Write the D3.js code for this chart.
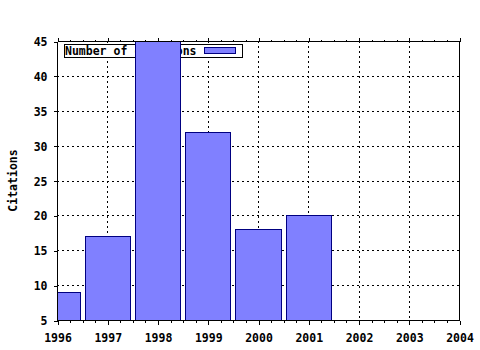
<!DOCTYPE html>
<html>
<head>
<meta charset="utf-8">
<script src="https://cdn.jsdelivr.net/npm/d3@7"></script>
<style>
	body { margin: 0; background: #fff; }
	text { font-family: "DejaVu Sans Mono", monospace; font-weight: bold; font-size: 11.5px; fill: #000; }
</style>
</head>
<body>
<div id="chart"></div>
<script>
'use strict';

// values
const years = [1996, 1997, 1998, 1999, 2000, 2001];
const citations = [9, 17, 45, 32, 18, 20];
const xTicks = [1996, 1997, 1998, 1999, 2000, 2001, 2002, 2003, 2004];
const yTicks = [5, 10, 15, 20, 25, 30, 35, 40, 45];
const seriesName = "Number of citations";
const yTitle = "Citations";

const width = 480, height = 350;
const plot = { left: 57, right: 459, top: 41, bottom: 320 };

const svg = d3.select("#chart")
	.append("svg")
		.attr("width", width)
		.attr("height", height)
		.attr("shape-rendering", "crispEdges");

const x = d3.scaleLinear()
	.domain([xTicks[0], xTicks[xTicks.length - 1]])
	.range([plot.left, plot.right]);

const y = d3.scaleLinear()
	.domain([yTicks[0], yTicks[yTicks.length - 1]])
	.range([plot.bottom, plot.top]);

// grid, dotted
const grid = svg.append("g")
	.attr("stroke", "#000")
	.attr("stroke-dasharray", "2,3");

grid.selectAll("line.h")
	.data(yTicks.slice(1, -1))
	.join("line")
		.attr("class", "h")
		.attr("x1", plot.left)
		.attr("x2", plot.right)
		.attr("y1", d => Math.round(y(d)) + 0.5)
		.attr("y2", d => Math.round(y(d)) + 0.5);

grid.selectAll("line.v")
	.data(xTicks.slice(1, -1))
	.join("line")
		.attr("class", "v")
		.attr("y1", plot.top)
		.attr("y2", plot.bottom)
		.attr("x1", d => Math.round(x(d)) + 0.5)
		.attr("x2", d => Math.round(x(d)) + 0.5);

// legend sits under the bars
const legend = svg.append("g");
legend.append("rect")
	.attr("x", 64.5).attr("y", 44.5)
	.attr("width", 178).attr("height", 13)
	.attr("fill", "#fff")
	.attr("stroke", "#000");
legend.append("text")
	.attr("x", 65)
	.attr("y", 55)
	.text(seriesName);
legend.append("rect")
	.attr("x", 204.5).attr("y", 47.5)
	.attr("width", 31).attr("height", 6)
	.attr("fill", "#8080ff")
	.attr("stroke", "#000080");

// bars, clipped to the plot
svg.append("clipPath")
	.attr("id", "clip")
	.append("rect")
		.attr("x", plot.left)
		.attr("y", plot.top)
		.attr("width", plot.right - plot.left)
		.attr("height", plot.bottom - plot.top);

const barW = 0.9;
svg.append("g")
	.attr("clip-path", "url(#clip)")
	.selectAll("rect")
	.data(years.map((yr, i) => ({ yr, v: citations[i] })))
	.join("rect")
		.attr("x", d => Math.round(x(d.yr - barW / 2)) + 0.5)
		.attr("width", d => Math.round(x(d.yr + barW / 2)) - Math.round(x(d.yr - barW / 2)))
		.attr("y", d => Math.round(y(d.v)) + 0.5)
		.attr("height", d => Math.round(y(yTicks[0])) - Math.round(y(d.v)))
		.attr("fill", "#8080ff")
		.attr("stroke", "#000080");

// axes
const minorX = d3.range(xTicks[0], xTicks[xTicks.length - 1] + 0.001, 0.25);

function xAxisGen(gen, size, labels) {
	return gen(x)
		.tickValues(labels ? xTicks : minorX)
		.tickSize(size)
		.tickSizeOuter(0)
		.tickFormat(labels ? d3.format("d") : "");
}

function styleAxis(g) {
	g.select(".domain").remove();
	g.selectAll(".tick line").attr("stroke", "#000");
	g.selectAll("text").attr("font-family", null).attr("font-size", null).attr("fill", null);
}

svg.append("g")
	.attr("transform", `translate(0.5,${plot.bottom + 0.5})`)
	.call(xAxisGen(d3.axisBottom, 2, false))
	.call(styleAxis);

const xAxis = svg.append("g")
	.attr("transform", `translate(0.5,${plot.bottom + 0.5})`)
	.call(xAxisGen(d3.axisBottom, 4, true))
	.call(styleAxis);
xAxis.selectAll("text").attr("dy", null).attr("y", 21);

svg.append("g")
	.attr("transform", `translate(0.5,${plot.top + 0.5})`)
	.call(xAxisGen(d3.axisTop, 2, false))
	.call(styleAxis);
svg.append("g")
	.attr("transform", `translate(0.5,${plot.top + 0.5})`)
	.call(xAxisGen(d3.axisTop, 4, false).tickValues(xTicks))
	.call(styleAxis);

const yAxis = svg.append("g")
	.attr("transform", `translate(${plot.left + 0.5},0.5)`)
	.call(d3.axisLeft(y).tickValues(yTicks).tickSize(4).tickSizeOuter(0))
	.call(styleAxis);
yAxis.selectAll("text").attr("x", -10).attr("dy", "0.35em");

// frame
svg.append("g")
	.attr("stroke", "#000")
	.selectAll("line")
	.data([
		[plot.left, plot.top, plot.left, plot.bottom],
		[plot.right, plot.top, plot.right, plot.bottom],
		[plot.left, plot.top, plot.right, plot.top],
		[plot.left, plot.bottom, plot.right, plot.bottom]
	])
	.join("line")
		.attr("x1", d => d[0] + 0.5).attr("y1", d => d[1] + 0.5)
		.attr("x2", d => d[2] + 0.5).attr("y2", d => d[3] + 0.5);

svg.append("text")
	.attr("transform", `translate(17,${(plot.top + plot.bottom) / 2}) rotate(-90)`)
	.attr("text-anchor", "middle")
	.text(yTitle);
</script>
</body>
</html>
